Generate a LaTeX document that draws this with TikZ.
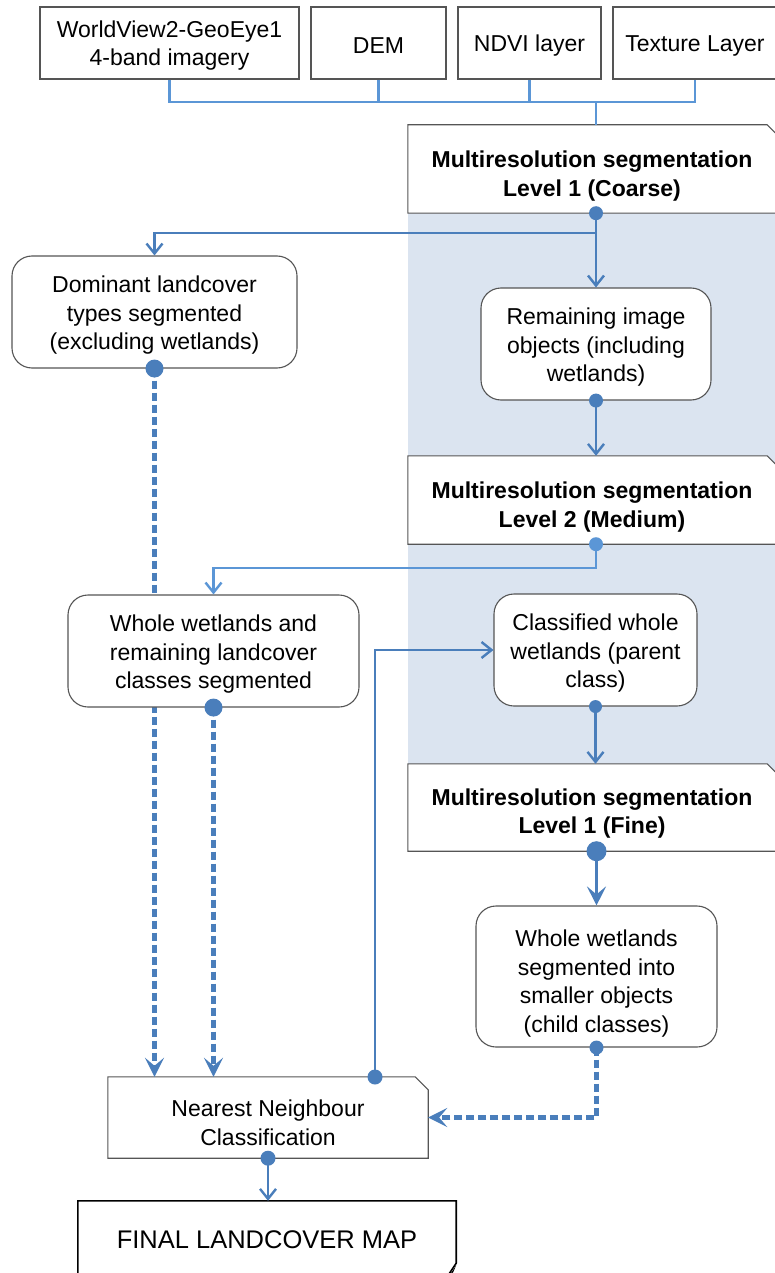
\documentclass[tikz,border=0pt]{standalone}
\usepackage{fontspec}
\setmainfont{Liberation Sans}
\usetikzlibrary{arrows.meta,calc}
\pgfdeclarelayer{band}
\pgfdeclarelayer{cards}
\pgfsetlayers{band,cards,main}

\definecolor{flow}{HTML}{4A7EBB}
\definecolor{flowlight}{HTML}{5B96D6}
\definecolor{bandfill}{HTML}{DBE4F0}
\definecolor{edge}{HTML}{555555}

% invisible strut that lowers the text block of a box
\newcommand\padtop[1]{\rule{0pt}{#1}}

% outline of a box whose top-right corner is cut off
\newcommand\snipcard[2]{%
  \begin{pgfonlayer}{cards}
    \path[draw=edge,line width=1.1pt,fill=white]
      (#1.south west) -- (#1.north west) -- ([xshift=-#2]#1.north east)
      -- ([yshift=-#2]#1.north east) -- (#1.south east) -- cycle;
  \end{pgfonlayer}}

\begin{document}
\begin{tikzpicture}[x=1pt,y=-1pt,
  every node/.style={font=\fontsize{23}{28.5}\selectfont, align=center, inner sep=0pt},
  plainbox/.style={draw=edge, line width=1.1pt, fill=white, minimum height=72pt},
  roundbox/.style={draw=edge, line width=1.1pt, fill=white, rounded corners=20pt},
  snipbox/.style={font=\fontsize{23}{28.5}\selectfont\bfseries, minimum width=368pt},
  link/.style={draw=flow, line width=2.6pt},
  lightlink/.style={draw=flowlight, line width=2.6pt},
  dashlink/.style={draw=flow, line width=4.2pt, dash pattern=on 8pt off 4pt},
  barb/.style={-{Straight Barb[length=10pt,width=16pt,line width=2.4pt]}},
  notch/.style={-{Stealth[length=19pt,width=19pt,inset=8pt]}},
  port/.style={fill=flow},
]
\useasboundingbox (0,0) rectangle (775,1273);

% shaded band behind the multiresolution stages
\begin{pgfonlayer}{band}
  \fill[bandfill] (408,213) rectangle (775,851);
\end{pgfonlayer}

% input layers
\node[plainbox, minimum width=259pt] (wv)   at (169.5,43) {\padtop{22pt}WorldView2-GeoEye1\\4-band imagery};
\node[plainbox, minimum width=135pt] (dem)  at (378.5,43) {\padtop{22pt}DEM};
\node[plainbox, minimum width=143pt] (ndvi) at (529.5,43) {\padtop{22pt}NDVI layer};
\node[plainbox, minimum width=164pt] (tex)  at (695,43)   {\padtop{22pt}Texture Layer};

% segmentation stages
\node[snipbox, minimum height=88pt] (coarse) at (592,169)   {\padtop{31pt}Multiresolution segmentation\\Level 1 (Coarse)};
\node[snipbox, minimum height=88pt] (med)    at (592,500)   {\padtop{31pt}Multiresolution segmentation\\Level 2 (Medium)};
\node[snipbox, minimum height=87pt] (fine)   at (592,807.5) {\padtop{29pt}Multiresolution segmentation\\Level 1 (Fine)};
\snipcard{coarse}{9pt}
\snipcard{med}{9pt}
\snipcard{fine}{9pt}

\node[roundbox, minimum width=285pt, minimum height=112pt] (dom) at (154.5,312) {\padtop{23pt}Dominant landcover\\types segmented\\(excluding wetlands)};
\node[roundbox, minimum width=230pt, minimum height=112pt] (rem) at (596,344) {\padtop{23pt}Remaining image\\objects (including\\wetlands)};
\node[roundbox, minimum width=203pt, minimum height=112pt] (cls) at (595.5,650) {\padtop{23pt}Classified whole\\wetlands (parent\\class)};
\node[roundbox, minimum width=241pt, minimum height=141pt] (child) at (596.5,976.5) {\padtop{31pt}Whole wetlands\\segmented into\\smaller objects\\(child classes)};

\node[minimum width=320pt, minimum height=81pt] (nn) at (268,1117.5) {\padtop{27pt}Nearest Neighbour\\Classification};
\snipcard{nn}{13pt}

% connector junctions
\coordinate (hub)    at (596,102);
\coordinate (split1) at (596,233);
\coordinate (split2) at (596,568);
\coordinate (nnport) at (375,1077);

% dashed feeds into the classifier (behind the boxes they pass)
\draw[dashlink, notch] (dom.south) -- (dom.south |- nn.north);

\node[roundbox, minimum width=291pt, minimum height=112pt] (wwl) at (213.5,651) {\padtop{23pt}Whole wetlands and\\remaining landcover\\classes segmented};
\draw[dashlink, notch] (wwl.south) -- (wwl.south |- nn.north);

% final product
\node[minimum width=378pt, minimum height=78pt, font=\fontsize{25.5}{30}\selectfont] (final) at (267,1240) {FINAL LANDCOVER MAP};
\draw[black, line width=1.6pt] ([yshift=-20pt]final.south west) -- (final.north west) -- (final.north east)
  -- ([yshift=16pt]final.south east) -- ([xshift=-12pt,yshift=-2pt]final.south east);
\fill[black] ([yshift=14pt]final.south east) -- ([xshift=-10pt,yshift=-1pt]final.south east)
  -- ([xshift=-3pt,yshift=7pt]final.south east) -- cycle;

% inputs merge into the coarse segmentation
\draw[lightlink] (wv.south) -- (wv.south |- hub) -| (tex.south);
\draw[lightlink] (dem.south) -- (dem.south |- hub);
\draw[lightlink] (ndvi.south) -- (ndvi.south |- hub);
\draw[lightlink] (hub) -- (hub |- coarse.north);

% coarse level splits into two branches
\draw[link] (rem.north |- coarse.south) -- (split1);
\draw[link, barb] (split1) -| (dom.north);
\draw[link, barb] (split1) -- (rem.north);
\fill[port] (rem.north |- coarse.south) circle (7pt);

% remaining objects to medium level
\draw[link, barb] (rem.south) -- (rem.south |- med.north);
\fill[port] (rem.south) circle (7pt);

% medium level to whole wetlands
\draw[lightlink, barb] (rem.south |- med.south) -- (split2) -| (wwl.north);
\fill[flowlight] (rem.south |- med.south) circle (7pt);

% classified wetlands to fine level
\draw[link, barb] (cls.south) -- (cls.south |- fine.north);
\fill[port] (cls.south) circle (6.5pt);

% fine level to child classes
\draw[flow, line width=3.5pt, notch] (child.north |- fine.south) -- (child.north);
\fill[port] (child.north |- fine.south) circle (10pt);

% child classes back to the classifier
\draw[dashlink, notch] (child.south) -- (child.south |- nn.east) -- (nn.east);
\fill[port] (child.south) circle (7pt);

% classifier feedback to classified wetlands
\draw[link, barb] (nnport) |- (cls.west);
\fill[port] (nnport) circle (7.5pt);

% classifier to final map
\draw[link, barb] (nn.south) -- (nn.south |- final.north);
\fill[port] (nn.south) circle (7.5pt);

% ports of the segmented landcover boxes
\fill[port] (dom.south) circle (9pt);
\fill[port] (wwl.south) circle (9pt);
\end{tikzpicture}
\end{document}
